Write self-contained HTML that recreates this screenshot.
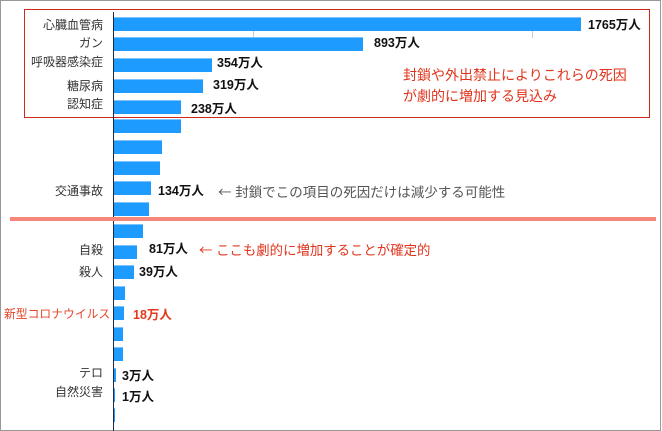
<!DOCTYPE html>
<html><head><meta charset="utf-8">
<style>
html,body{margin:0;padding:0;background:#fff;}
body{width:662px;height:431px;position:relative;overflow:hidden;font-family:"Liberation Sans","Noto Sans CJK JP",sans-serif;}
.frame{position:absolute;left:0;top:0;width:661px;height:431px;border:1px solid #999;box-sizing:border-box;}
.redbox{position:absolute;left:24px;top:9px;width:626px;height:109px;border:1px solid #d0281a;box-sizing:border-box;}
.axis{position:absolute;left:112.5px;top:12px;width:1.2px;height:419px;background:#1c2a48;}
.bar{position:absolute;left:113.5px;height:14px;background:#1e9bff;border-top:1px solid #7cc2ff;box-sizing:border-box;}
.lbl{position:absolute;right:559px;font-size:12px;color:#333;white-space:nowrap;line-height:14px;}
.val{position:absolute;font-size:12.5px;font-weight:bold;color:#111;white-space:nowrap;line-height:14px;}
.note{position:absolute;white-space:nowrap;line-height:16px;}
.arr{font-family:"Noto Sans CJK JP",sans-serif;}
.grid{position:absolute;width:1px;background:#ccc;}
</style></head><body>
<div class="frame"></div>
<div class="grid" style="left:253px;top:30px;height:8px;"></div>
<div class="grid" style="left:532px;top:30px;height:8px;"></div>
<div class="redbox"></div>

<div class="bar" style="top:17px;width:467px;"></div>
<div class="bar" style="top:37px;width:249px;"></div>
<div class="bar" style="top:58px;width:98px;"></div>
<div class="bar" style="top:78.5px;width:89px;"></div>
<div class="bar" style="top:99.5px;width:67px;"></div>
<div class="bar" style="top:119px;width:67px;"></div>
<div class="bar" style="top:140px;width:48px;"></div>
<div class="bar" style="top:160.5px;width:46px;"></div>
<div class="bar" style="top:181px;width:37px;"></div>
<div class="bar" style="top:202px;width:35px;"></div>
<div class="bar" style="top:224px;width:29px;"></div>
<div class="bar" style="top:244.5px;width:23px;"></div>
<div class="bar" style="top:265px;width:20px;"></div>
<div class="bar" style="top:285.5px;width:11px;"></div>
<div class="bar" style="top:306px;width:10px;"></div>
<div class="bar" style="top:326.5px;width:9px;"></div>
<div class="bar" style="top:347px;width:9px;"></div>
<div class="bar" style="top:367.5px;width:2px;"></div>
<div class="bar" style="top:388px;width:1.5px;"></div>
<div class="bar" style="top:408px;width:1.5px;"></div>

<div class="axis"></div>

<div style="position:absolute;left:10px;top:217px;width:646px;height:4px;background:#f7867a;"></div>

<div class="lbl" style="top:18px;">心臓血管病</div>
<div class="lbl" style="top:36px;">ガン</div>
<div class="lbl" style="top:55px;">呼吸器感染症</div>
<div class="lbl" style="top:79px;">糖尿病</div>
<div class="lbl" style="top:97px;">認知症</div>
<div class="lbl" style="top:184px;">交通事故</div>
<div class="lbl" style="top:243px;">自殺</div>
<div class="lbl" style="top:265px;">殺人</div>
<div class="lbl" style="top:307px;left:4px;right:auto;color:#e3452a;font-size:11.8px;">新型コロナウイルス</div>
<div class="lbl" style="top:366px;">テロ</div>
<div class="lbl" style="top:385px;">自然災害</div>

<div class="val" style="left:588px;top:18px;">1765万人</div>
<div class="val" style="left:374px;top:36px;">893万人</div>
<div class="val" style="left:217px;top:56px;">354万人</div>
<div class="val" style="left:213px;top:78px;">319万人</div>
<div class="val" style="left:191px;top:102px;">238万人</div>
<div class="val" style="left:158px;top:184px;">134万人</div>
<div class="val" style="left:149px;top:242px;">81万人</div>
<div class="val" style="left:139px;top:265px;">39万人</div>
<div class="val" style="left:133px;top:308px;color:#e3381c;">18万人</div>
<div class="val" style="left:122px;top:369px;">3万人</div>
<div class="val" style="left:122px;top:390px;">1万人</div>

<div class="note" style="left:403px;top:67px;font-size:14px;color:#e0341c;">封鎖や外出禁止によりこれらの死因</div>
<div class="note" style="left:403px;top:88px;font-size:14px;color:#e0341c;">が劇的に増加する見込み</div>
<div class="note" style="left:218px;top:183px;font-size:13.5px;color:#555;"><span class="arr">←</span> 封鎖でこの項目の死因だけは減少する可能性</div>
<div class="note" style="left:199px;top:241px;font-size:13.4px;color:#e0341c;"><span class="arr">←</span> ここも劇的に増加することが確定的</div>
</body></html>
